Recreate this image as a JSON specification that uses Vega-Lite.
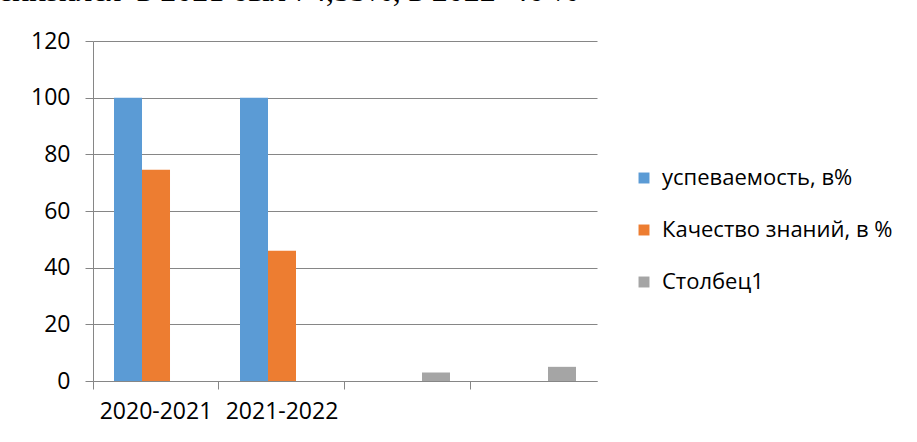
{
  "$schema": "https://vega.github.io/schema/vega-lite/v6.json",
  "width": 504,
  "height": 340,
  "autosize": {"type": "none"},
  "padding": {"left": 93, "top": 41, "right": 320, "bottom": 61},
  "background": "white",
  "title": {
    "text": "снизился\u00a0 в 2021 был 74,55%, в 2022\u00a0 46 %",
    "anchor": "start",
    "frame": "group",
    "font": "Liberation Serif",
    "fontSize": 32,
    "fontWeight": "normal",
    "color": "black",
    "baseline": "alphabetic",
    "offset": 0,
    "dx": -95,
    "dy": 3
  },
  "data": {
    "values": [
      {"cat": "2020-2021", "series": "успеваемость, в%", "value": 100},
      {"cat": "2020-2021", "series": "Качество знаний, в %", "value": 74.55},
      {"cat": "2021-2022", "series": "успеваемость, в%", "value": 100},
      {"cat": "2021-2022", "series": "Качество знаний, в %", "value": 46},
      {"cat": "c3", "series": "Столбец1", "value": 3},
      {"cat": "c4", "series": "Столбец1", "value": 5}
    ]
  },
  "mark": {"type": "bar"},
  "encoding": {
    "x": {
      "field": "cat",
      "type": "nominal",
      "sort": null,
      "scale": {"domain": ["2020-2021", "2021-2022", "c3", "c4"], "paddingInner": 0.3333, "paddingOuter": 0.1667},
      "axis": {
        "title": null,
        "labelExpr": "datum.value == 'c3' || datum.value == 'c4' ? '' : datum.value",
        "labelAngle": 0,
        "bandPosition": -0.25,
        "labelFont": "Open Sans",
        "labelFontSize": 23,
        "labelColor": "black",
        "labelPadding": 11,
        "tickColor": "#868686",
        "tickSize": 8,
        "domainColor": "#868686",
        "grid": false
      }
    },
    "xOffset": {
      "field": "series",
      "type": "nominal",
      "scale": {"domain": ["успеваемость, в%", "Качество знаний, в %", "Столбец1"], "paddingInner": 0, "paddingOuter": 0}
    },
    "y": {
      "field": "value",
      "type": "quantitative",
      "scale": {"domain": [0, 120]},
      "axis": {
        "title": null,
        "values": [0, 20, 40, 60, 80, 100, 120],
        "labelFont": "Open Sans",
        "labelFontSize": 23,
        "labelColor": "black",
        "labelPadding": 15,
        "tickColor": "#868686",
        "tickSize": 8,
        "domainColor": "#868686",
        "gridColor": "#868686",
        "grid": true
      }
    },
    "color": {
      "field": "series",
      "type": "nominal",
      "scale": {"domain": ["успеваемость, в%", "Качество знаний, в %", "Столбец1"], "range": ["#5B9BD5", "#ED7D31", "#A5A5A5"]},
      "legend": {
        "title": null,
        "orient": "none",
        "legendX": 540,
        "legendY": 126,
        "symbolType": "square",
        "symbolSize": 120,
        "symbolStrokeWidth": 0,
        "labelFont": "Open Sans",
        "labelFontSize": 22,
        "labelColor": "black",
        "labelOffset": 7,
        "rowPadding": 30,
        "labelLimit": 400
      }
    }
  },
  "config": {"view": {"stroke": null}}
}
